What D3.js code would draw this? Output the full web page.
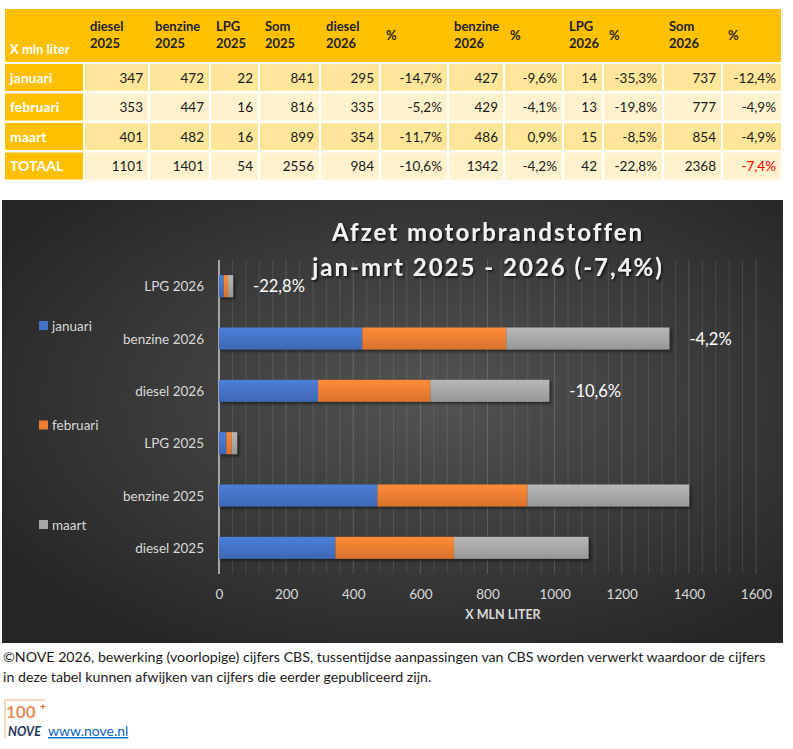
<!DOCTYPE html>
<html>
<head>
<meta charset="utf-8">
<script src="https://cdn.jsdelivr.net/npm/d3@7"></script>
<style>
  body { margin: 0; background: #fff; }
  svg { display: block; font-family: Lato, "Noto Sans", sans-serif; }
</style>
</head>
<body>
<script>
// table data (x mln liter)
var months = ['januari', 'februari', 'maart'];
var diesel2025 = [347, 353, 401];
var benzine2025 = [472, 447, 482];
var lpg2025 = [22, 16, 16];
var som2025 = [841, 816, 899];
var diesel2026 = [295, 335, 354];
var benzine2026 = [427, 429, 486];
var lpg2026 = [14, 13, 15];
var som2026 = [737, 777, 854];
var dieselPct = ['-14,7%', '-5,2%', '-11,7%', '-10,6%'];
var benzinePct = ['-9,6%', '-4,1%', '0,9%', '-4,2%'];
var lpgPct = ['-35,3%', '-19,8%', '-8,5%', '-22,8%'];
var somPct = ['-12,4%', '-4,9%', '-4,9%', '-7,4%'];
var totalLabel = 'TOTAAL';
var totals = [1101, 1401, 54, 2556, 984, 1342, 42, 2368];
var headers = ['X mln liter', 'diesel|2025', 'benzine|2025', 'LPG|2025', 'Som|2025', 'diesel|2026', '%',
  'benzine|2026', '%', 'LPG|2026', '%', 'Som|2026', '%'];

// chart data
var categories = ['LPG 2026', 'benzine 2026', 'diesel 2026', 'LPG 2025', 'benzine 2025', 'diesel 2025'];
var catSeries = [lpg2026, benzine2026, diesel2026, lpg2025, benzine2025, diesel2025];
var catLabels = ['-22,8%', '-4,2%', '-10,6%', '', '', ''];
var monthColors = ['#4472c4', '#ed7d31', '#a5a5a5'];
var xTicks = [0, 200, 400, 600, 800, 1000, 1200, 1400, 1600];
var chartTitle = ['Afzet motorbrandstoffen', 'jan-mrt 2025 - 2026 (-7,4%)'];
var axisTitle = 'X MLN LITER';
var footer = ['©NOVE 2026, bewerking (voorlopige) cijfers CBS, tussentijdse aanpassingen van CBS worden verwerkt waardoor de cijfers',
  'in deze tabel kunnen afwijken van cijfers die eerder gepubliceerd zijn.'];

var svg = d3.select('body').append('svg')
  .attr('width', 793)
  .attr('height', 749);

var defs = svg.append('defs');

// ---------- table ----------
var colWidths = [78, 63, 59, 47, 59, 58, 66, 54, 57, 38, 58, 57, 58];
var colX = [];
var cx = 5;
colWidths.forEach(function (w, i) { colX.push(cx); cx += w + 2; });

var rows = months.map(function (m, i) {
  return [m, diesel2025[i], benzine2025[i], lpg2025[i], som2025[i], diesel2026[i], dieselPct[i],
    benzine2026[i], benzinePct[i], lpg2026[i], lpgPct[i], som2026[i], somPct[i]];
});
rows.push([totalLabel, totals[0], totals[1], totals[2], totals[3], totals[4], dieselPct[3],
  totals[5], benzinePct[3], totals[6], lpgPct[3], totals[7], somPct[3]]);

var tg = svg.append('g');
tg.append('rect')
  .attr('x', 5).attr('y', 9)
  .attr('width', 776).attr('height', 53)
  .attr('fill', '#ffc000');

headers.forEach(function (h, i) {
  var lines = h.split('|');
  var t = tg.append('text')
    .attr('x', colX[i] + 5)
    .attr('font-size', 13)
    .attr('font-weight', 'bold')
    .attr('fill', i == 0 ? '#fff' : '#1f1f1f');
  if (i == 0) {
    t.attr('y', 54).text(h);
  } else if (lines.length == 1) {
    t.attr('y', 40).text(h);
  } else {
    t.append('tspan').attr('x', colX[i] + 5).attr('y', 31).text(lines[0]);
    t.append('tspan').attr('x', colX[i] + 5).attr('y', 48).text(lines[1]);
  }
});

var rowY = d3.scaleBand().domain(d3.range(rows.length)).range([62, 180]);
rows.forEach(function (r, ri) {
  var y0 = rowY(ri) + 2;
  var h = 27;
  r.forEach(function (v, ci) {
    tg.append('rect')
      .attr('x', colX[ci]).attr('y', y0)
      .attr('width', colWidths[ci]).attr('height', h)
      .attr('fill', ci == 0 ? '#ffc000' : (ri % 2 == 0 ? '#ffe699' : '#fff2cc'));
    var t = tg.append('text')
      .attr('y', y0 + 18.5)
      .attr('font-size', ci == 0 ? 14 : 13.5)
      .text(v);
    if (ci == 0) {
      t.attr('x', colX[ci] + 5).attr('fill', '#fff').attr('font-weight', 'bold');
    } else {
      t.attr('x', colX[ci] + colWidths[ci] - 5)
        .attr('text-anchor', 'end')
        .attr('fill', (ri == rows.length - 1 && ci == r.length - 1) ? '#ff0000' : '#1a1a1a');
    }
  });
});

// ---------- chart ----------
var bg = defs.append('radialGradient').attr('id', 'bg')
  .attr('cx', '0.55').attr('cy', '0.45').attr('r', '0.65');
bg.append('stop').attr('offset', '0%').attr('stop-color', '#535353');
bg.append('stop').attr('offset', '100%').attr('stop-color', '#262626');

monthColors.forEach(function (c, i) {
  var lg = defs.append('linearGradient').attr('id', 'bar' + i)
    .attr('x1', 0).attr('y1', 0).attr('x2', 0).attr('y2', 1);
  lg.append('stop').attr('offset', '0%').attr('stop-color', d3.color(c).brighter(0.3));
  lg.append('stop').attr('offset', '100%').attr('stop-color', d3.color(c).darker(0.25));
});

var shadow = defs.append('filter').attr('id', 'shadow')
  .attr('x', '-10%').attr('y', '-20%').attr('width', '130%').attr('height', '160%');
shadow.append('feDropShadow').attr('dx', 2).attr('dy', 2).attr('stdDeviation', 1.5)
  .attr('flood-color', '#000').attr('flood-opacity', 0.5);

var tshadow = defs.append('filter').attr('id', 'tshadow')
  .attr('x', '-5%').attr('y', '-20%').attr('width', '110%').attr('height', '150%');
tshadow.append('feDropShadow').attr('dx', 1.5).attr('dy', 1.5).attr('stdDeviation', 1)
  .attr('flood-color', '#000').attr('flood-opacity', 0.8);

var cg = svg.append('g');
cg.append('rect')
  .attr('x', 2).attr('y', 200)
  .attr('width', 781).attr('height', 443)
  .attr('fill', 'url(#bg)');

var x = d3.scaleLinear().domain([0, 1600]).range([219, 756]);
var y = d3.scaleBand().domain(categories).range([260, 574]).paddingInner(0.58).paddingOuter(0.29);

// gridlines
cg.append('g').selectAll('line')
  .data(d3.range(40, 1601, 40))
  .enter().append('line')
  .attr('x1', function (d) { return x(d); })
  .attr('x2', function (d) { return x(d); })
  .attr('y1', 260).attr('y2', 574)
  .attr('stroke', function (d) { return d % 200 == 0 ? 'rgba(255,255,255,0.16)' : 'rgba(255,255,255,0.1)'; })
  .attr('stroke-width', 1);

cg.append('line')
  .attr('x1', x(0)).attr('x2', x(0))
  .attr('y1', 260).attr('y2', 574)
  .attr('stroke', '#a6a6a6').attr('stroke-width', 2);

// stacked bars
var stackData = categories.map(function (c, i) {
  var s = catSeries[i];
  return { cat: c, jan: s[0], feb: s[1], mrt: s[2] };
});
var stack = d3.stack().keys(['jan', 'feb', 'mrt']);
var layers = stack(stackData);

var barG = cg.append('g').attr('filter', 'url(#shadow)');
layers.forEach(function (layer, li) {
  barG.append('g').selectAll('rect')
    .data(layer)
    .enter().append('rect')
    .attr('x', function (d) { return x(d[0]); })
    .attr('y', function (d) { return y(d.data.cat); })
    .attr('width', function (d) { return x(d[1]) - x(d[0]); })
    .attr('height', y.bandwidth())
    .attr('fill', 'url(#bar' + li + ')');
});

// percentage labels
cg.append('g').selectAll('text')
  .data(stackData.filter(function (d, i) { return catLabels[i] != ''; }))
  .enter().append('text')
  .attr('x', function (d) { return x(d.jan + d.feb + d.mrt) + 20; })
  .attr('y', function (d) { return y(d.cat) + y.bandwidth() / 2 + 6; })
  .attr('font-size', 16.5)
  .attr('fill', '#fff')
  .text(function (d, i) { return catLabels[i]; });

// category axis labels
cg.append('g').selectAll('text')
  .data(categories)
  .enter().append('text')
  .attr('x', 204)
  .attr('y', function (d) { return y(d) + y.bandwidth() / 2 + 5; })
  .attr('text-anchor', 'end')
  .attr('font-size', 13.5)
  .attr('fill', '#d9d9d9')
  .text(function (d) { return d; });

// value axis
var xAxis = cg.append('g')
  .attr('transform', 'translate(0,574)')
  .call(d3.axisBottom(x).tickValues(xTicks).tickFormat(d3.format('d')).tickSize(0).tickPadding(15));
xAxis.select('.domain').remove();
xAxis.selectAll('text')
  .attr('font-family', 'Lato, sans-serif')
  .attr('font-size', 13.5)
  .attr('fill', '#d9d9d9');

cg.append('text')
  .attr('x', 503).attr('y', 619)
  .attr('text-anchor', 'middle')
  .attr('font-size', 12.5)
  .attr('font-weight', 'bold')
  .attr('fill', '#d9d9d9')
  .text(axisTitle);

// title
cg.append('g').attr('filter', 'url(#tshadow)').selectAll('text')
  .data(chartTitle)
  .enter().append('text')
  .attr('x', 488)
  .attr('y', function (d, i) { return 241 + i * 35; })
  .attr('text-anchor', 'middle')
  .attr('font-size', 24)
  .attr('font-weight', 'bold')
  .attr('letter-spacing', 2)
  .attr('fill', '#f2f2f2')
  .text(function (d) { return d; });

// legend
var legend = cg.append('g').selectAll('g')
  .data(months)
  .enter().append('g')
  .attr('transform', function (d, i) { return 'translate(39,' + (321 + i * 99.5) + ')'; });
legend.append('rect')
  .attr('width', 9).attr('height', 9)
  .attr('fill', function (d, i) { return monthColors[i]; });
legend.append('text')
  .attr('x', 13).attr('y', 9.5)
  .attr('font-size', 13.5)
  .attr('fill', '#d9d9d9')
  .text(function (d) { return d; });

// ---------- footer ----------
svg.append('g').selectAll('text')
  .data(footer)
  .enter().append('text')
  .attr('x', 3)
  .attr('y', function (d, i) { return 662 + i * 20; })
  .attr('font-size', 14.2)
  .attr('fill', '#1a1a1a')
  .text(function (d) { return d; });

// logo
var logo = svg.append('g').attr('transform', 'translate(5,700)');
logo.append('path')
  .attr('d', 'M0,38 V0 H40')
  .attr('fill', 'none')
  .attr('stroke', '#f4c7a8')
  .attr('stroke-width', 1.5);
logo.append('text')
  .attr('x', 1).attr('y', 18)
  .attr('font-size', 17)
  .attr('font-weight', 'bold')
  .attr('fill', '#e8915c')
  .text('100');
logo.append('text')
  .attr('x', 35).attr('y', 10)
  .attr('font-size', 10)
  .attr('font-weight', 'bold')
  .attr('fill', '#e2572a')
  .text('+');
logo.append('text')
  .attr('x', 3).attr('y', 36)
  .attr('font-size', 12.5)
  .attr('font-weight', 'bold')
  .attr('font-style', 'italic')
  .attr('fill', '#1d3557')
  .text('NOVE');

svg.append('text')
  .attr('x', 48).attr('y', 736)
  .attr('font-size', 14)
  .attr('fill', '#0563c1')
  .attr('text-decoration', 'underline')
  .text('www.nove.nl');
</script>
</body>
</html>
